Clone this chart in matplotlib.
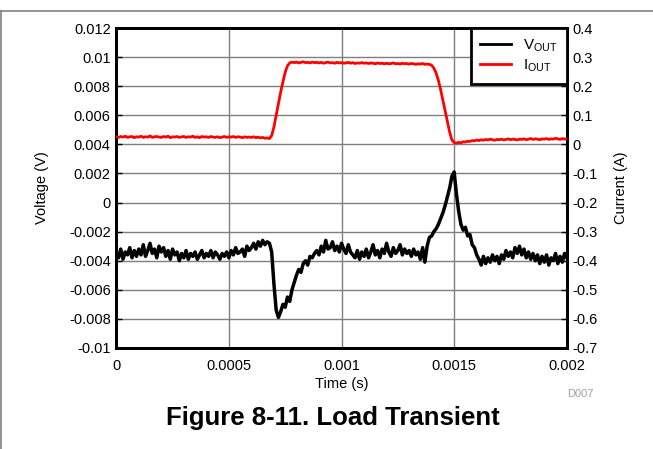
import numpy as np
import matplotlib
matplotlib.use("Agg")
import matplotlib.pyplot as plt
from matplotlib.lines import Line2D

plt.rcParams['font.family'] = ['Liberation Sans', 'DejaVu Sans']

# sample instants (ms), one every 0.01 ms
time_ms = np.round(np.arange(0, 2.0001, 0.01), 2)

# VOUT (mV)
vout_mv = [
    -3.5, -3.8, -3.2, -3.9, -3.4, -3.6, -3.1, -3.8, -3.3, -3.7,
    -3.2, -3.6, -2.9, -3.7, -3.3, -2.8, -3.5, -3.2, -3.8, -3.0,
    -3.4, -3.1, -3.7, -3.3, -3.9, -3.2, -3.6, -3.4, -4.0, -3.5,
    -3.8, -3.3, -3.9, -3.5, -3.7, -3.4, -3.9, -3.6, -3.3, -3.8,
    -3.5, -3.7, -3.3, -3.8, -3.4, -3.6, -3.9, -3.5, -3.7, -3.4,
    -3.8, -3.3, -3.6, -3.1, -3.5, -3.4, -3.2, -3.7, -3.0, -3.3,
    -3.1, -2.8, -3.2, -2.7, -3.0, -2.6, -2.9, -2.7, -2.8, -3.4,
    -5.6, -7.4, -7.9, -7.5, -7.0, -7.2, -6.5, -6.8, -6.0, -5.5,
    -5.0, -4.6, -4.8, -4.2, -4.0, -4.3, -3.7, -3.8, -3.5, -3.3,
    -3.6, -3.0, -3.4, -2.6, -3.2, -3.1, -2.7, -3.3, -3.0, -3.4,
    -2.8, -3.2, -3.5, -2.9, -3.4, -3.6, -3.8, -3.3, -3.9, -3.4,
    -3.7, -3.2, -3.8, -3.4, -2.9, -3.6, -3.3, -3.8, -3.2, -3.5,
    -2.8, -3.4, -3.7, -3.1, -3.5, -3.3, -2.9, -3.6, -3.2, -3.5,
    -3.3, -3.7, -3.2, -3.6, -3.4, -3.9, -3.1, -4.1, -3.0, -2.4,
    -2.3, -2.0, -1.8, -1.5, -1.1, -0.7, -0.2, 0.4, 1.0, 1.8,
    2.1, 0.6, -0.6, -1.5, -1.9, -1.7, -2.3, -2.2, -2.9, -3.1,
    -3.6, -3.9, -4.3, -3.7, -4.2, -3.8, -4.1, -3.6, -4.0, -3.7,
    -4.2, -3.6, -3.9, -3.3, -3.7, -3.4, -3.8, -3.1, -3.5, -3.0,
    -3.6, -3.2, -3.8, -3.4, -3.9, -3.5, -4.0, -3.6, -4.2, -3.7,
    -4.1, -3.6, -4.3, -3.8, -4.0, -3.5, -4.2, -3.7, -4.1, -3.5,
    -3.8,
]

# IOUT (A)
iout_a = [
    .026, .024, .027, .025, .028, .024, .026, .027, .023, .026,
    .025, .028, .024, .026, .025, .029, .024, .026, .027, .025,
    .024, .027, .025, .028, .023, .026, .025, .027, .024, .026,
    .027, .024, .026, .025, .028, .024, .026, .023, .027, .025,
    .026, .024, .027, .025, .024, .026, .023, .025, .027, .024,
    .026, .025, .027, .024, .026, .025, .023, .026, .024, .025,
    .024, .026, .023, .025, .022, .024, .021, .022, .020, .030,
    .060, .100, .140, .180, .215, .248, .270, .280, .283, .281,
    .283, .280, .282, .284, .281, .282, .280, .283, .281, .282,
    .280, .282, .279, .281, .283, .280, .281, .279, .282, .280,
    .281, .279, .280, .282, .279, .281, .278, .280, .279, .281,
    .279, .280, .278, .280, .279, .277, .280, .278, .279, .277,
    .279, .277, .278, .280, .277, .278, .276, .279, .277, .278,
    .276, .278, .277, .275, .277, .276, .278, .275, .276, .275,
    .272, .262, .245, .220, .188, .152, .115, .078, .042, .015,
    .006, .004, .007, .005, .009, .008, .011, .010, .013, .012,
    .015, .013, .016, .014, .017, .015, .018, .016, .014, .017,
    .016, .018, .015, .017, .019, .016, .018, .017, .015, .018,
    .017, .019, .016, .018, .020, .017, .019, .018, .016, .019,
    .018, .020, .017, .019, .018, .021, .019, .017, .020, .018,
    .019,
]

v_ticks = [-0.01, -0.008, -0.006, -0.004, -0.002, 0, 0.002, 0.004, 0.006, 0.008, 0.01, 0.012]
v_labels = ['-0.01', '-0.008', '-0.006', '-0.004', '-0.002', '0', '0.002', '0.004',
            '0.006', '0.008', '0.01', '0.012']
i_ticks = [-0.7, -0.6, -0.5, -0.4, -0.3, -0.2, -0.1, 0, 0.1, 0.2, 0.3, 0.4]
i_labels = ['-0.7', '-0.6', '-0.5', '-0.4', '-0.3', '-0.2', '-0.1', '0', '0.1', '0.2', '0.3', '0.4']
t_ticks = [0, 0.0005, 0.001, 0.0015, 0.002]
t_labels = ['0', '0.0005', '0.001', '0.0015', '0.002']

t = time_ms * 1e-3
v = np.array(vout_mv) * 1e-3
i = np.array(iout_a)

fig = plt.figure(figsize=(6.53, 4.49), dpi=100)
ax = fig.add_axes([0.178, 0.225, 0.690, 0.7126])
ax2 = ax.twinx()

grid_c = '#7f7f7f'
for yt in v_ticks[1:-1]:
    ax.axhline(yt, color=grid_c, lw=1.0, zorder=0)
for xt in t_ticks[1:-1]:
    ax.axvline(xt, color=grid_c, lw=1.0, zorder=0)

ax.plot(t, v, color='black', lw=2.5, zorder=3)
ax2.plot(t, i, color='#ff0000', lw=2.0, zorder=3)

ax.set_xlim(0, 0.002)
ax.set_ylim(-0.01, 0.012)
ax2.set_ylim(-0.7, 0.4)
ax.set_xticks(t_ticks, t_labels)
ax.set_yticks(v_ticks, v_labels)
ax2.set_yticks(i_ticks, i_labels)

fs = 10.5
for a in (ax, ax2):
    a.tick_params(direction='in', length=4, width=1, labelsize=fs, colors='black')
    for s in a.spines.values():
        s.set_linewidth(2.0)
        s.set_color('black')
ax.tick_params(axis='x', length=0, pad=8)
ax.tick_params(axis='y', pad=4)
ax2.tick_params(axis='y', pad=4)

ax.set_xlabel('Time (s)', fontsize=fs, labelpad=3)
ax.set_ylabel('Voltage (V)', fontsize=fs, labelpad=14)
ax2.set_ylabel('Current (A)', fontsize=fs, labelpad=12)

handles = [Line2D([0], [0], color='black', lw=2),
           Line2D([0], [0], color='#ff0000', lw=2)]
leg = ax2.legend(handles, [r'V$_{\mathregular{OUT}}$', r'I$_{\mathregular{OUT}}$'],
                 loc='upper right', bbox_to_anchor=(1.0, 1.0), borderaxespad=0,
                 fontsize=11, frameon=True, fancybox=False, handlelength=2.0,
                 borderpad=0.6, labelspacing=0.25, handletextpad=0.8)
leg.get_frame().set_edgecolor('black')
leg.get_frame().set_linewidth(2.0)
leg.get_frame().set_facecolor('white')
leg.get_frame().set_alpha(1)
leg.set_zorder(10)

fig.text(593 / 653, 1 - 394 / 449, 'D007', ha='right', va='center', fontsize=8, color='#a0a0a0')
fig.text(333 / 653, 1 - 418 / 449, 'Figure 8-11. Load Transient', ha='center', va='center',
         fontsize=18.5, fontweight='bold')

border_c = '#808080'
fig.add_artist(Line2D([0, 1], [1 - 11 / 449, 1 - 11 / 449], color=border_c, lw=1.2,
                      transform=fig.transFigure))
fig.add_artist(Line2D([1 / 653, 1 / 653], [0, 1 - 11 / 449], color=border_c, lw=1.2,
                      transform=fig.transFigure))

fig.savefig('out.png', dpi=100)
